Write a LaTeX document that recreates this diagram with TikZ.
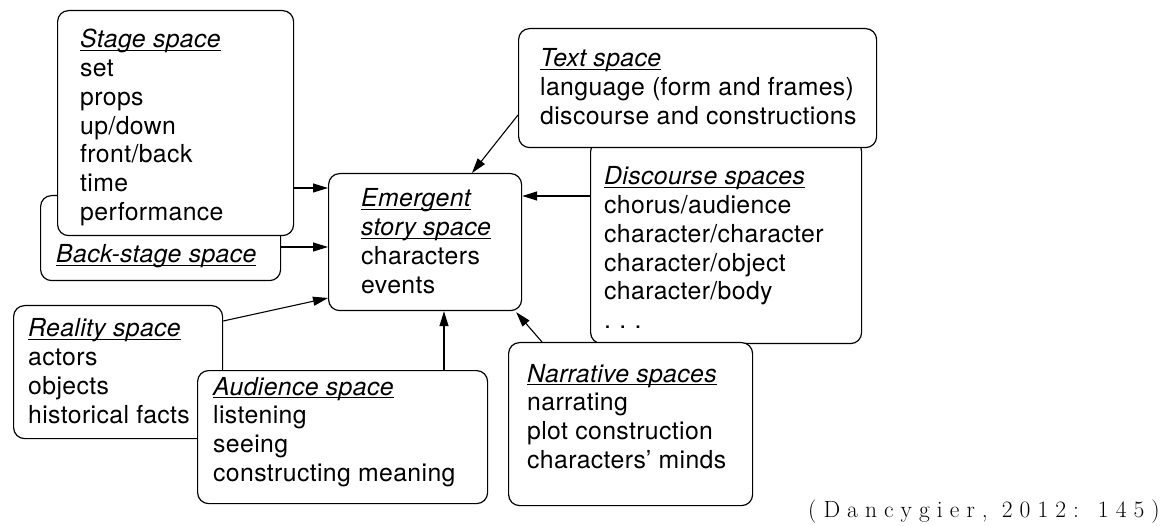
\documentclass[tikz,border=0pt]{standalone}
\usepackage{fontspec}
\setmainfont[LetterSpace=1.5]{TeX Gyre Heros}
\newfontfamily\citefont[LetterSpace=30]{Latin Modern Roman}
\usetikzlibrary{arrows.meta}
% underlined oblique heading
\newcommand\hd[1]{{\itshape\setbox0\hbox{#1}\rlap{\rule[-3pt]{\wd0}{1.1pt}}\box0}}
\tikzset{
  box/.style={draw, line width=1.2pt, rounded corners=11pt, fill=white,
    inner sep=0, anchor=north west},
  txt/.style={inner sep=0, anchor=base west,
    font=\fontsize{24.8}{28.7}\selectfont},
  arr/.style={line width=1.1pt, -{Triangle[length=15pt,width=9pt]}},
}
\begin{document}
\begin{tikzpicture}[x=1pt, y=-1pt]
\useasboundingbox (0,0) rectangle (1172,526);

% boxes (later ones lie on top)
\node[box, minimum width=240, minimum height=85]  (back)   at (40,195)  {};
\node[box, minimum width=236, minimum height=225] (stage)  at (57,10)   {};
\node[box, minimum width=193, minimum height=137] (emerg)  at (328,173) {};
\node[box, minimum width=271, minimum height=203] (disc)   at (590,140) {};
\node[box, minimum width=358, minimum height=119] (textsp) at (518,28)  {};
\node[box, minimum width=209, minimum height=133] (real)   at (13,305)  {};
\node[box, minimum width=290, minimum height=133] (aud)    at (197,370) {};
\node[box, minimum width=244, minimum height=163] (narr)   at (508,342) {};

% contents
\node[txt] (stagetxt) at (80,48) {\begin{tabular}[t]{@{}l@{}}\hd{Stage space}\\ set\\ props\\ up/down\\ front/back\\ time\\ performance\end{tabular}};
\node[txt] (backtxt) at (56,263) {\hd{Back-stage space}};
\node[txt] (emergtxt) at (361,207) {\begin{tabular}[t]{@{}l@{}}\hd{Emergent}\\ \hd{story space}\\ characters\\ events\end{tabular}};
\node[txt] (texttxt) at (540,67) {\begin{tabular}[t]{@{}l@{}}\hd{Text space}\\ language (form and frames)\\ discourse and constructions\end{tabular}};
\node[txt] (disctxt) at (604,185) {\begin{tabular}[t]{@{}l@{}}\hd{Discourse spaces}\\ chorus/audience\\ character/character\\ character/object\\ character/body\\ .\,\,.\,\,.\end{tabular}};
\node[txt] (realtxt) at (28,337) {\begin{tabular}[t]{@{}l@{}}\hd{Reality space}\\ actors\\ objects\\ historical facts\end{tabular}};
\node[txt] (audtxt) at (213,395) {\begin{tabular}[t]{@{}l@{}}\hd{Audience space}\\ listening\\ seeing\\ constructing meaning\end{tabular}};
\node[txt] (narrtxt) at (527,382) {\begin{tabular}[t]{@{}l@{}}\hd{Narrative spaces}\\ narrating\\ plot construction\\ characters’ minds\end{tabular}};

% connectors into the emergent story space
\draw[arr] (stage.east |- 0,188) -- (emerg.west |- 0,188);
\draw[arr] (back.east |- 0,247) -- (emerg.west |- 0,247);
\draw[arr] (disc.west |- 0,196) -- (emerg.east |- 0,196);
\draw[arr] (textsp.west |- 0,115) -- (emerg.north -| 472,0);
\draw[arr] (real.east |- 0,321) -- (emerg.west |- 0,298);
\draw[arr] (aud.north -| 444,0) -- (emerg.south -| 444,0);
\draw[arr] (narr.north -| 542,0) -- ([shift={(-6,1)}]emerg.south east);

% source
\node[anchor=base east, inner sep=0, font=\citefont\fontsize{23.5}{27}\selectfont] (cite) at (1160,517) {(Dancygier, 2012: 145)};
\end{tikzpicture}
\end{document}
